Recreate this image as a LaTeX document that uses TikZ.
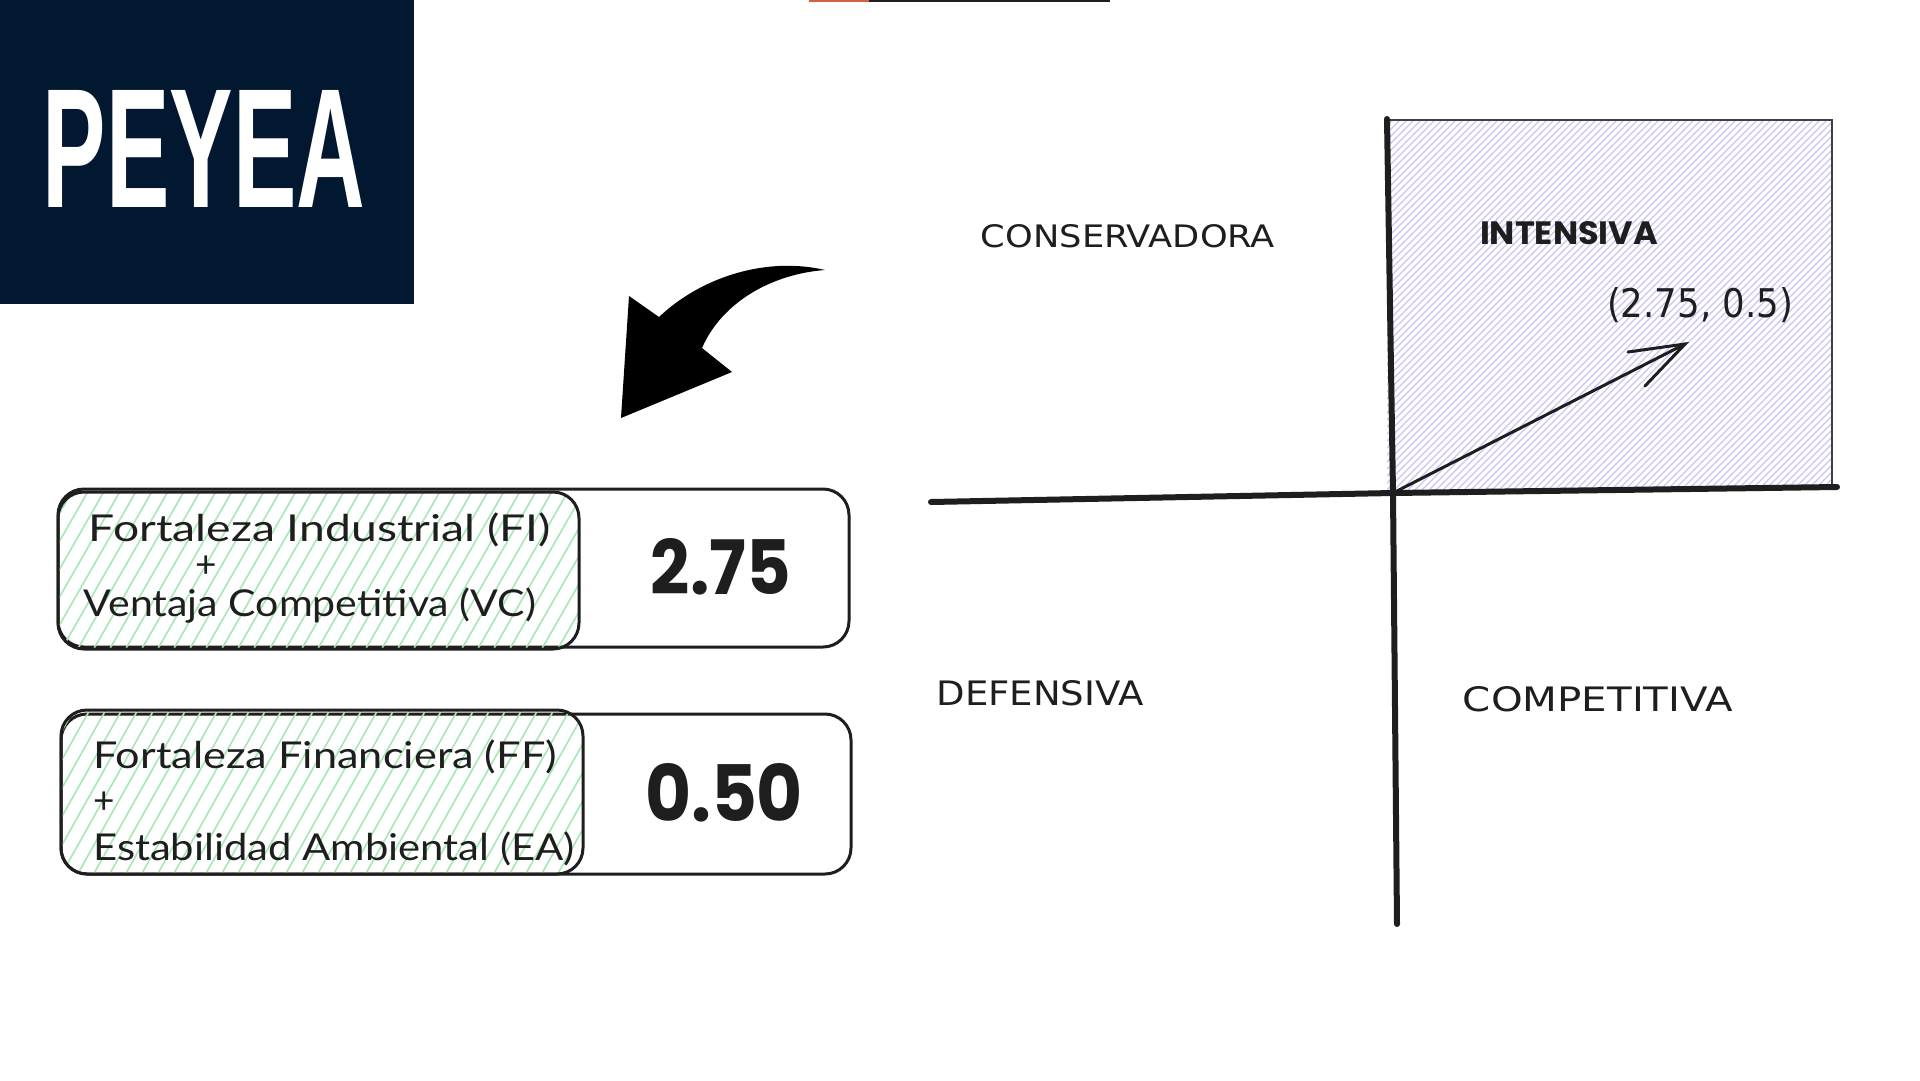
\documentclass[tikz,border=0pt]{standalone}
\usepackage{fontspec}
\usepackage{graphicx}
\setmainfont{Lato}
\newfontfamily\titlefont{Liberation Sans}
\newfontfamily\numfont{Poppins}
\newfontfamily\quadfont{DejaVu Sans}
\definecolor{navy}{HTML}{021730}
\definecolor{hatchgreen}{HTML}{A6E8B4}
\definecolor{hatchlav}{HTML}{C9C5F3}
\definecolor{ink}{HTML}{1E1E1E}
\definecolor{rust}{HTML}{D0643C}
\newcommand{\wide}[2]{\scalebox{#1}[1]{#2}}
\tikzset{
  boxtext/.style={inner sep=0pt, text=ink, font=\fontsize{37}{44}\selectfont},
  quadlabel/.style={inner sep=0pt, text=ink},
  frame/.style={draw=ink, line width=3pt, rounded corners=26pt},
  axis/.style={draw=ink, line width=6pt, line cap=round},
}
\begin{document}
\begin{tikzpicture}[x=1pt,y=-1pt]
\useasboundingbox (0,0) rectangle (1920,1080);
\fill[white] (0,0) rectangle (1920,1080);

% title block
\node[fill=navy, minimum width=414pt, minimum height=304pt, anchor=north west, inner sep=0pt] (titlebox) at (0,0) {};
\node[text=white, inner sep=0pt] (title) at (204,148.5) {\resizebox{322pt}{117pt}{\titlefont\bfseries PEYEA}};

% top thin line
\coordinate (tl1) at (809,1);
\coordinate (tl2) at (869,1);
\coordinate (tl3) at (1110,1);
\draw[rust, line width=2.5pt] (tl1) -- (tl2);
\draw[ink, line width=2.5pt] (tl2) -- (tl3);

% curved arrow
\fill[black] (621,418) -- (629,296) -- (659,317)
  .. controls (700,278) and (765,256) .. (825,270)
  .. controls (772,274) and (722,302) .. (702,348)
  -- (732,372) -- cycle;

% box 1
\draw[frame, fill=white] (58,489) rectangle (849,647);
\begin{scope}
  \clip[rounded corners=26pt] (58,492) rectangle (579,649);
  \foreach \i in {-100,-84,...,600} {\draw[hatchgreen, line width=1.6pt] (\i,652) -- (\i+94,488);}
\end{scope}
\draw[frame] (58,492) rectangle (579,649);
\node[boxtext] (fi) at (320,530) {\wide{1.25}{Fortaleza Industrial (FI)}};
\node[boxtext] (plus1) at (206,567) {+};
\node[boxtext] (vc) at (310,606) {\wide{1.11}{Ventaja Competitiva (VC)}};
\node[inner sep=0pt, text=ink] (v1) at (721,567) {\resizebox{140pt}{56pt}{\numfont\bfseries 2.75}};

% box 2
\draw[frame, fill=white] (61,714) rectangle (851,874);
\begin{scope}
  \clip[rounded corners=26pt] (61,710) rectangle (583,874);
  \foreach \i in {-100,-84,...,600} {\draw[hatchgreen, line width=1.6pt] (\i,877) -- (\i+96,706);}
\end{scope}
\draw[frame] (61,710) rectangle (583,874);
\node[boxtext, anchor=west] (ff) at (93,757) {\wide{1.17}{Fortaleza Financiera (FF)}};
\node[boxtext, anchor=west] (plus2) at (93,803) {+};
\node[boxtext, anchor=west] (ea) at (93,849) {\wide{1.13}{Estabilidad Ambiental (EA)}};
\node[inner sep=0pt, text=ink] (v2) at (724,793) {\resizebox{158pt}{58pt}{\numfont\bfseries 0.50}};

% quadrant: intensive area
\begin{scope}
  \clip (1387,120) rectangle (1832,489);
  \foreach \i in {1000,1007,...,1840} {\draw[hatchlav, line width=1.2pt] (\i,492) -- (\i+375,117);}
\end{scope}
\draw[draw=ink!85, line width=2.5pt] (1387,120) -- (1832,120) -- (1832,487);

% axes
\coordinate (hl) at (931,502);
\coordinate (o) at (1393,493);
\coordinate (hr) at (1837,487);
\coordinate (vt) at (1387,119);
\coordinate (vb) at (1397,924);
\draw[axis] (hl) -- (o) -- (hr);
\draw[axis] (vt) -- (o) -- (vb);

% vector
\coordinate (tip) at (1685,344);
\coordinate (b1) at (1628,352);
\coordinate (b2) at (1645,386);
\draw[ink, line width=3pt, line cap=round] (o) -- (tip);
\draw[ink, line width=3pt, line cap=round] (b1) -- (tip) -- (b2);

% labels
\node[quadlabel] (intensiva) at (1569,233) {\resizebox{178pt}{23pt}{\numfont\bfseries INTENSIVA}};
\node[quadlabel] (coord) at (1700,305) {\resizebox{186pt}{30pt}{\quadfont (2.75, 0.5)}};
\node[quadlabel] (conservadora) at (1128,236) {\resizebox{294pt}{23pt}{\quadfont CONSERVADORA}};
\node[quadlabel] (defensiva) at (1040,693) {\resizebox{207pt}{25pt}{\quadfont DEFENSIVA}};
\node[quadlabel] (competitiva) at (1598,699) {\resizebox{270pt}{25pt}{\quadfont COMPETITIVA}};
\end{tikzpicture}
\end{document}
